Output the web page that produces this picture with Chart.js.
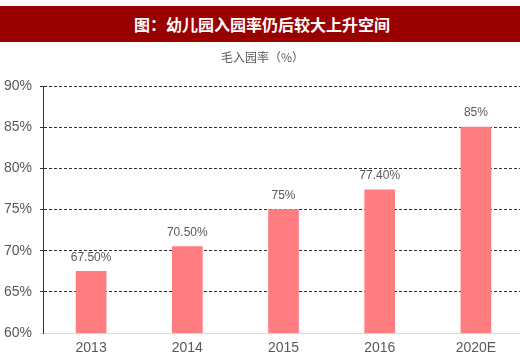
<!DOCTYPE html>
<html><head><meta charset="utf-8">
<script src="https://cdn.jsdelivr.net/npm/chart.js@4.4.1/dist/chart.umd.min.js"></script>
<style>
html,body{margin:0;padding:0;width:520px;height:358px;overflow:hidden;background:#fff;}
#banner{position:absolute;left:0;top:6px;width:520px;height:36px;background:#990000;color:#fff;font:bold 16px "Noto Sans CJK SC",sans-serif;line-height:36px;text-align:center;text-indent:4px;z-index:2;}
#sub{position:absolute;left:0;top:48px;width:525px;text-align:center;color:#595959;font:12px "Noto Sans CJK SC",sans-serif;line-height:18px;z-index:2;}
#wrap{position:absolute;left:0;top:0;width:530px;height:358px;}
</style></head>
<body>
<div id="banner">图：幼儿园入园率仍后较大上升空间</div>
<div id="sub">毛入园率（%）</div>
<div id="wrap"><canvas id="c" width="530" height="358"></canvas></div>
<script>
const categories = ['2013','2014','2015','2016','2020E'];
const values = [67.5, 70.5, 75, 77.4, 85];
const valueLabels = ['67.50%','70.50%','75%','77.40%','85%'];
const yTicks = [60,65,70,75,80,85,90];

const grey = '#595959';
const labelPlugin = {
  id:'vlabels',
  afterDatasetsDraw(chart){
    const ctx = chart.ctx;
    const meta = chart.getDatasetMeta(0);
    ctx.save();
    ctx.font = '12px "Liberation Sans", Arial, sans-serif';
    ctx.fillStyle = grey;
    ctx.textAlign = 'center';
    ctx.textBaseline = 'bottom';
    meta.data.forEach((bar,i)=>{
      ctx.fillText(valueLabels[i], bar.x, bar.y - 8);
    });
    ctx.restore();
  }
};

new Chart(document.getElementById('c'), {
  type:'bar',
  data:{labels:categories,datasets:[{data:values,backgroundColor:'#FF7C80',borderWidth:0,barThickness:30}]},
  options:{
    responsive:false,animation:false,
    layout:{padding:{top:86,right:6,left:0,bottom:0}},
    plugins:{legend:{display:false},tooltip:{enabled:false},title:{display:false}},
    scales:{
      x:{
        offset:true,
        grid:{display:false,drawTicks:false},
        border:{display:true,color:'#d9d9d9',width:1},
        ticks:{color:grey,font:{size:14,family:'"Liberation Sans", Arial, sans-serif'},padding:7},
        afterFit(s){s.height=25;}
      },
      y:{
        min:60,max:90,
        afterBuildTicks(s){s.ticks=yTicks.map(v=>({value:v}));},
        grid:{color:(c)=>c.tick && c.tick.value===60 ? '#d9d9d9' : '#333333',lineWidth:1,tickLength:3,drawTicks:true},
        border:{display:true,color:'#333333',dash:[3,2]},
        ticks:{color:grey,font:{size:14,family:'"Liberation Sans", Arial, sans-serif'},padding:8,callback:v=>v+'%'},
        afterFit(s){s.width=43;}
      }
    }
  },
  plugins:[labelPlugin, {
    id:'dashgrid',
    beforeDraw(chart){ chart.scales.y.options.grid.borderDash=[3,2]; }
  }]
});
</script>
</body></html>
